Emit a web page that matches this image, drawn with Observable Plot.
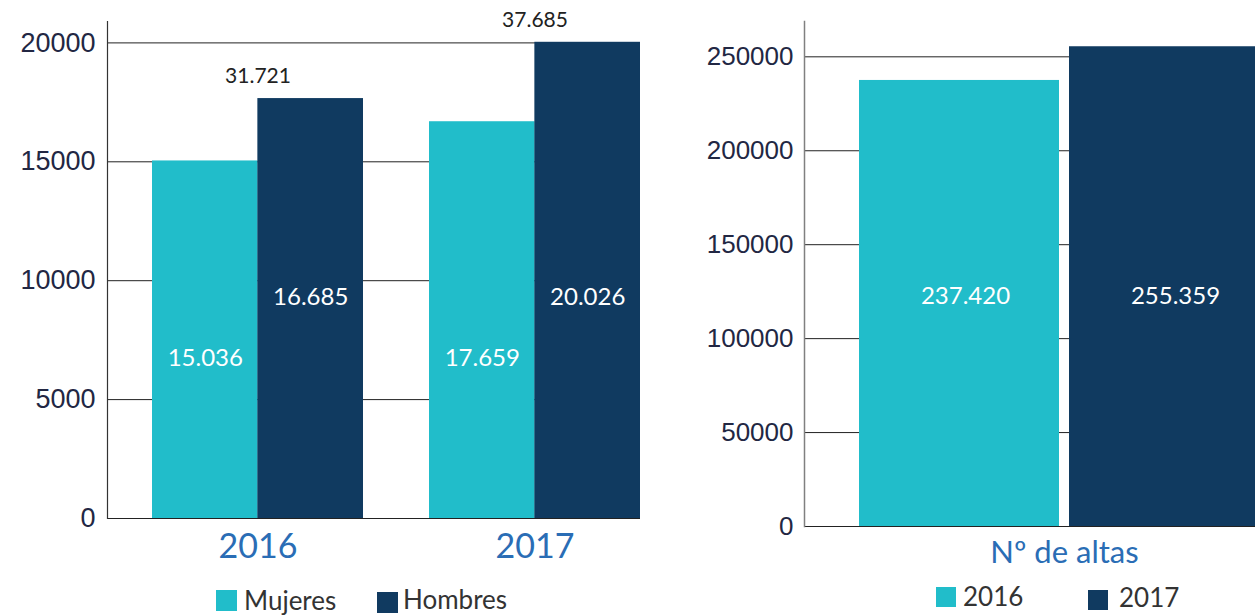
<!DOCTYPE html>
<html>
<head>
<meta charset="utf-8">
<script src="https://cdn.jsdelivr.net/npm/d3@7"></script>
<script src="https://cdn.jsdelivr.net/npm/@observablehq/plot@0.6"></script>
<style>
  html, body { margin: 0; padding: 0; background: #fff; overflow: hidden; }
  #wrap { position: relative; width: 1255px; height: 616px; overflow: hidden; }
  .panel { position: absolute; top: 0; }
  .panel svg { max-width: none !important; }
  .leg { position: absolute; font-family: Lato, "Open Sans", sans-serif; font-size: 26px; color: #333; line-height: 20px; white-space: nowrap; }
  .sw { position: absolute; }
</style>
</head>
<body>
<div id="wrap">
  <div id="left" class="panel" style="left:0px; width:660px"></div>
  <div id="right" class="panel" style="left:680px; width:650px"></div>
</div>
<script>
// ---- data ----
const years = ["2016", "2017"];
const sexes = ["Mujeres", "Hombres"];
const mujeresBar = [15036, 16685];     // bar heights as drawn
const hombresBar = [17659, 20026];
const mujeresLabel = ["15.036", "17.659"];
const hombresLabel = ["16.685", "20.026"];
const totalLabel = ["31.721", "37.685"];
const leftTicks = [0, 5000, 10000, 15000, 20000];

const altasCategory = "Nº de altas";
const altasYears = ["2016", "2017"];
const altasValues = [237420, 255359];
const altasLabel = ["237.420", "255.359"];
const rightTicks = [0, 50000, 100000, 150000, 200000, 250000];

// ---- styles ----
const cyan = "#21bdca";
const navy = "#103a60";
const tickColor = "#222743";
const blue = "#2a6db5";
const labelFont = "Lato, 'Open Sans', sans-serif";
const tickFont = "'Liberation Sans', Arial, sans-serif";
const fmt = d3.format("d");

// ---- left chart ----
const mujeres = years.map((y, i) => ({year: y, sex: "Mujeres", value: mujeresBar[i], label: mujeresLabel[i]}));
const hombres = years.map((y, i) => ({year: y, sex: "Hombres", value: hombresBar[i], label: hombresLabel[i]}));
const totals = years.map((y, i) => ({year: y, top: Math.max(mujeresBar[i], hombresBar[i]), label: totalLabel[i]}));

const lRange = [152, 640], lPad = 0.24;
const lStep = (lRange[1] - lRange[0]) / (years.length - lPad);
const lBand = lStep * (1 - lPad);
const half = lBand / 2, quarter = lBand / 4;
const inLevel = {Mujeres: 6740, Hombres: 9300};

const left = Plot.plot({
  width: 660, height: 570,
  marginLeft: 107, marginRight: 20, marginTop: 21, marginBottom: 52,
  style: {background: "transparent", overflow: "visible", maxWidth: "none"},
  x: {domain: years, range: lRange, paddingInner: lPad, paddingOuter: 0},
  y: {domain: [0, 20900]},
  marks: [
    Plot.gridY(leftTicks, {stroke: "#222", strokeOpacity: 1, strokeWidth: 1}),
    Plot.barY(mujeres, {x: "year", y: "value", fill: cyan, insetRight: half}),
    Plot.barY(hombres, {x: "year", y: "value", fill: navy, insetLeft: half}),
    Plot.frame({anchor: "left", stroke: "#333", strokeWidth: 1.2}),
    Plot.axisY(leftTicks, {tickSize: 0, tickPadding: 12, fontSize: 27, fill: tickColor, fontFamily: tickFont, label: null, tickFormat: fmt}),
    Plot.axisX({tickSize: 0, tickPadding: 15, fontSize: 34, fill: blue, fontFamily: labelFont, label: null}),
    Plot.text(mujeres, {x: "year", y: d => inLevel[d.sex], text: "label", dx: -quarter, fill: "#fff", fontSize: 24, fontFamily: labelFont}),
    Plot.text(hombres, {x: "year", y: d => inLevel[d.sex], text: "label", dx: quarter, fill: "#fff", fontSize: 24, fontFamily: labelFont}),
    Plot.text(totals, {x: "year", y: "top", text: "label", dy: -22, fill: "#222", fontSize: 21, fontFamily: labelFont})
  ]
});
document.getElementById("left").appendChild(left);

// ---- right chart ----
const altas = altasYears.map((y, i) => ({year: y, value: altasValues[i], label: altasLabel[i]}));
const right = Plot.plot({
  width: 650, height: 570,
  marginLeft: 124, marginRight: 6, marginTop: 21, marginBottom: 44,
  style: {background: "transparent", overflow: "visible", maxWidth: "none"},
  x: {domain: altasYears, range: [179, 589], paddingInner: 0.048, paddingOuter: 0, axis: null},
  y: {domain: [0, 268800]},
  marks: [
    Plot.gridY(rightTicks, {stroke: "#222", strokeOpacity: 1, strokeWidth: 1}),
    Plot.barY(altas, {x: "year", y: "value", fill: d => d.year === "2016" ? cyan : navy}),
    Plot.frame({anchor: "left", stroke: "#808080", strokeWidth: 1.5}),
    Plot.axisY(rightTicks, {tickSize: 0, tickPadding: 11, fontSize: 26, fill: tickColor, fontFamily: tickFont, label: null, tickFormat: fmt}),
    Plot.text(altas, {x: "year", y: () => 122500, text: "label", dx: 6, fill: "#fff", fontSize: 24, fontFamily: labelFont}),
    Plot.text([altasCategory], {frameAnchor: "bottom", lineAnchor: "top", dy: 14, text: d => d, fill: blue, fontSize: 31, fontFamily: labelFont})
  ]
});
document.getElementById("right").appendChild(right);

// ---- legends ----
const wrap = document.getElementById("wrap");
function legend(color, text, sx, sy, size, tx, ty) {
  const s = document.createElement("div");
  s.className = "sw";
  Object.assign(s.style, {left: sx + "px", top: sy + "px", width: size + "px", height: size + "px", background: color});
  wrap.appendChild(s);
  const t = document.createElement("div");
  t.className = "leg";
  t.textContent = text;
  Object.assign(t.style, {left: tx + "px", top: ty + "px"});
  wrap.appendChild(t);
}
legend(cyan, sexes[0], 216, 590, 21, 244, 590);
legend(navy, sexes[1], 377, 592, 21, 403, 589);
legend(cyan, altasYears[0], 936, 587, 20, 963, 586);
legend(navy, altasYears[1], 1088, 590, 20, 1119, 587);
</script>
</body>
</html>
